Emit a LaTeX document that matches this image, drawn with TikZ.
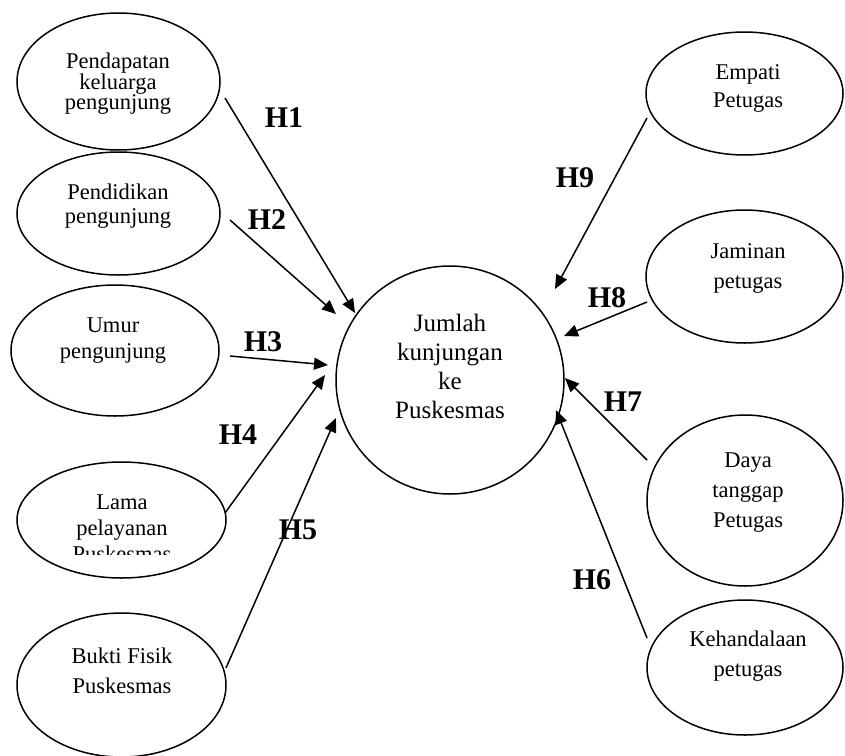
\documentclass[tikz,border=0pt]{standalone}
\usepackage{fontspec}
\setmainfont{Liberation Serif}
\usetikzlibrary{shapes.geometric,arrows.meta}
\AtBeginDocument{\lineskiplimit=-30pt\relax}
\begin{document}
\begin{tikzpicture}[x=1pt,y=-1pt,
  oval/.style={draw,ellipse,line width=1.5pt,inner sep=0pt},
  txt/.style={align=center,inner sep=0pt,font=\fontsize{22.5}{#1}\selectfont},
  bigtxt/.style={align=center,inner sep=0pt,font=\fontsize{25}{29}\selectfont},
  hyp/.style={font=\fontsize{30}{30}\selectfont\bfseries,inner sep=0pt},
  link/.style={line width=1.5pt,-{Triangle[length=14pt,width=12pt]}}]
\clip (0,0) rectangle (845,755);
% left ellipses
\node[oval,minimum width=203pt,minimum height=137pt] (e1) at (118.5,81.5) {};
\node[oval,minimum width=203pt,minimum height=123pt] (e2) at (118.5,213.5) {};
\node[oval,minimum width=208pt,minimum height=131pt] (e3) at (115,350.5) {};
\node[oval,minimum width=209pt,minimum height=116pt] (e4) at (121.5,520) {};
\node[oval,minimum width=209pt,minimum height=144pt] (e5) at (121.5,685) {};
% centre circle
\node[draw,circle,line width=1.5pt,inner sep=0pt,minimum size=228pt] (c) at (450,380) {};
% right ellipses
\node[oval,minimum width=197pt,minimum height=123pt] (r1) at (744.5,93.5) {};
\node[oval,minimum width=197pt,minimum height=133pt] (r2) at (744.5,276.5) {};
\node[oval,minimum width=196pt,minimum height=171pt] (r3) at (745,500.5) {};
\node[oval,minimum width=196pt,minimum height=135pt] (r4) at (745,667.5) {};
% texts
\node[txt=20.5pt] (t1) at (118,84) {Pendapatan\\keluarga\\pengunjung};
\node[txt=24pt] (t2) at (118,206) {Pendidikan\\pengunjung};
\node[txt=26pt] (t3) at (113,341) {Umur\\pengunjung};
\begin{scope}
\clip (0,0) rectangle (845,554);
\node[txt=26pt] (t4) at (122,528) {Lama\\pelayanan\\Puskesmas};
\end{scope}
\node[txt=30pt] (t5) at (122,671) {Bukti Fisik\\Puskesmas};
\node[bigtxt] (tc) at (450,366) {Jumlah\\kunjungan\\ke\\Puskesmas};
\node[txt=28pt] (u1) at (748,88) {Empati\\Petugas};
\node[txt=30pt] (u2) at (748,268) {Jaminan\\petugas};
\node[txt=30pt] (u3) at (748,493) {Daya\\tanggap\\Petugas};
\node[txt=30pt] (u4) at (748,656) {Kehandalaan\\petugas};
% arrow ends
\coordinate (s1) at (225,98);  \coordinate (p1) at (355,313);
\coordinate (s2) at (230,220); \coordinate (p2) at (336,314);
\coordinate (s3) at (230,356); \coordinate (p3) at (328,365);
\coordinate (s4) at (225,513); \coordinate (p4) at (325,375);
\coordinate (s5) at (226,668); \coordinate (p5) at (336,418);
\coordinate (s9) at (647,118); \coordinate (p9) at (555,289);
\coordinate (s8) at (647,302); \coordinate (p8) at (564,336);
\coordinate (s7) at (647,460); \coordinate (p7) at (565,378);
\coordinate (s6) at (647,638); \coordinate (p6) at (556,410);
\draw[link] (s1) -- (p1);
\draw[link] (s2) -- (p2);
\draw[link] (s3) -- (p3);
\draw[link] (s4) -- (p4);
\draw[link] (s5) -- (p5);
\draw[link] (s9) -- (p9);
\draw[link] (s8) -- (p8);
\draw[link] (s7) -- (p7);
\draw[link] (s6) -- (p6);
% labels
\node[hyp] (h1) at (284,118) {H1};
\node[hyp] (h2) at (267,220) {H2};
\node[hyp] (h3) at (263,342) {H3};
\node[hyp] (h4) at (238,435) {H4};
\node[hyp] (h5) at (298,530) {H5};
\node[hyp] (h9) at (575,178) {H9};
\node[hyp] (h8) at (607,298) {H8};
\node[hyp] (h7) at (623,402) {H7};
\node[hyp] (h6) at (592,580) {H6};
\end{tikzpicture}
\end{document}
